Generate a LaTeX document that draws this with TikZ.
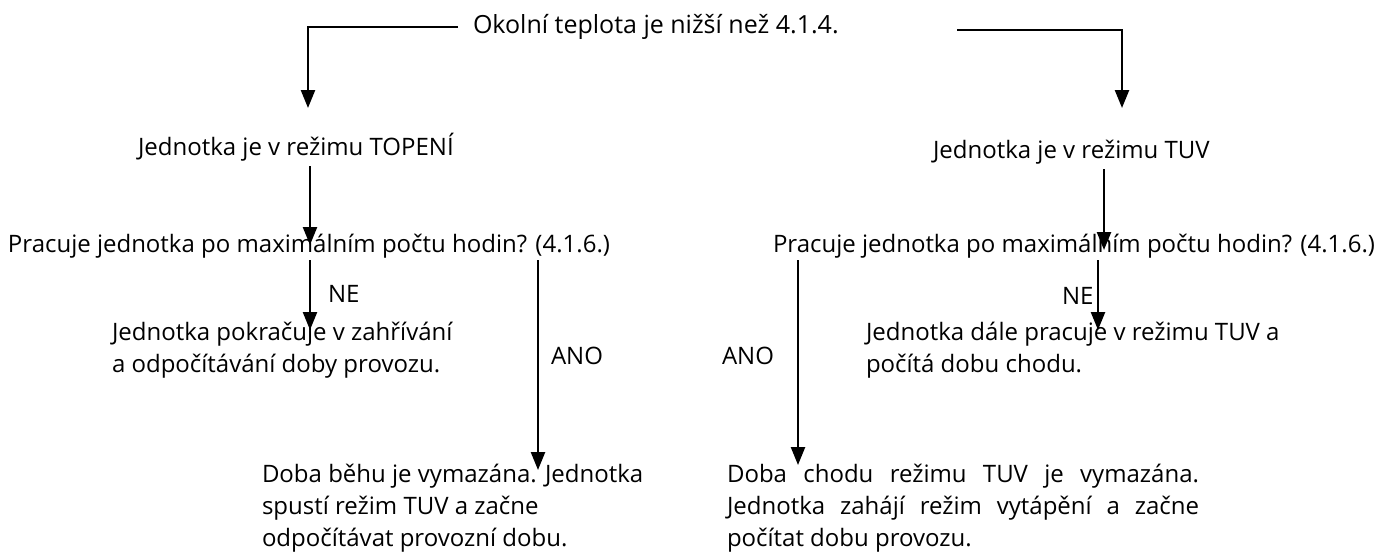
\documentclass[tikz,border=0pt]{standalone}
\usepackage{fontspec}
\setmainfont{Open Sans}
\usetikzlibrary{arrows.meta}
\begin{document}
\begin{tikzpicture}[x=1pt,y=-1pt,
  txt/.style={inner sep=0pt,outer sep=0pt,font=\fontsize{24}{32}\selectfont,align=left},
  arr/.style={line width=2.4pt,-{Triangle[length=18pt,width=14pt]}}]
\useasboundingbox (0,0) rectangle (1381,555);
\node[txt,anchor=west,font=\fontsize{25}{32}\selectfont] (top) at (473,27) {Okolní teplota je nižší než 4.1.4.};
\node[txt,anchor=west] (topen) at (138,147) {Jednotka je v režimu TOPENÍ};
\node[txt,anchor=west] (tuv) at (933,152) {Jednotka je v režimu TUV};
\node[txt,anchor=west] (q1) at (8,246) {Pracuje jednotka po maximálním počtu hodin? (4.1.6.)};
\node[txt,anchor=west] (q2) at (773,246) {Pracuje jednotka po maximálním počtu hodin? (4.1.6.)};
\node[txt,anchor=west] (ne1) at (328,294) {NE};
\node[txt,anchor=west] (ano1) at (551,356) {ANO};
\node[txt,anchor=west] (ano2) at (722,356) {ANO};
\node[txt,anchor=west] (ne2) at (1062,296) {NE};
\node[txt,anchor=north west] (c1) at (112,322) {Jednotka pokračuje v zahřívání\\a odpočítávání doby provozu.};
\node[txt,anchor=north west] (c2) at (866,322) {Jednotka dále pracuje v režimu TUV a\\počítá dobu chodu.};
\node[txt,anchor=north west] (d1) at (262,464) {Doba běhu je vymazána. Jednotka\\spustí režim TUV a začne\\odpočítávat provozní dobu.};
\node[txt,anchor=north west,text width=472pt,align=justify] (d2) at (727,464) {\hyphenpenalty=10000 Doba chodu režimu TUV je vymazána.\linebreak Jednotka zahájí režim vytápění a začne\linebreak počítat dobu provozu.};
\coordinate (tl) at (308,108);
\coordinate (tr) at (1122,108);
\coordinate (trs) at (957,30);
\draw[arr] ([xshift=-15pt]top.west) -| (tl);
\draw[arr] (trs) -| (tr);
\draw[arr] (topen.south -| 310,0) ++(0,5) -- (310,245);
\draw[arr] (tuv.south -| 1104,0) ++(0,5) -- (1104,250);
\draw[arr] (q1.south -| 310,0) ++(0,2) -- (310,330);
\draw[arr] (q1.south -| 538,0) ++(0,2) -- (538,470);
\draw[arr] (q2.south -| 798,0) ++(0,2) -- (798,465);
\draw[arr] (q2.south -| 1098,0) ++(0,2) -- (1098,330);
\end{tikzpicture}
\end{document}
